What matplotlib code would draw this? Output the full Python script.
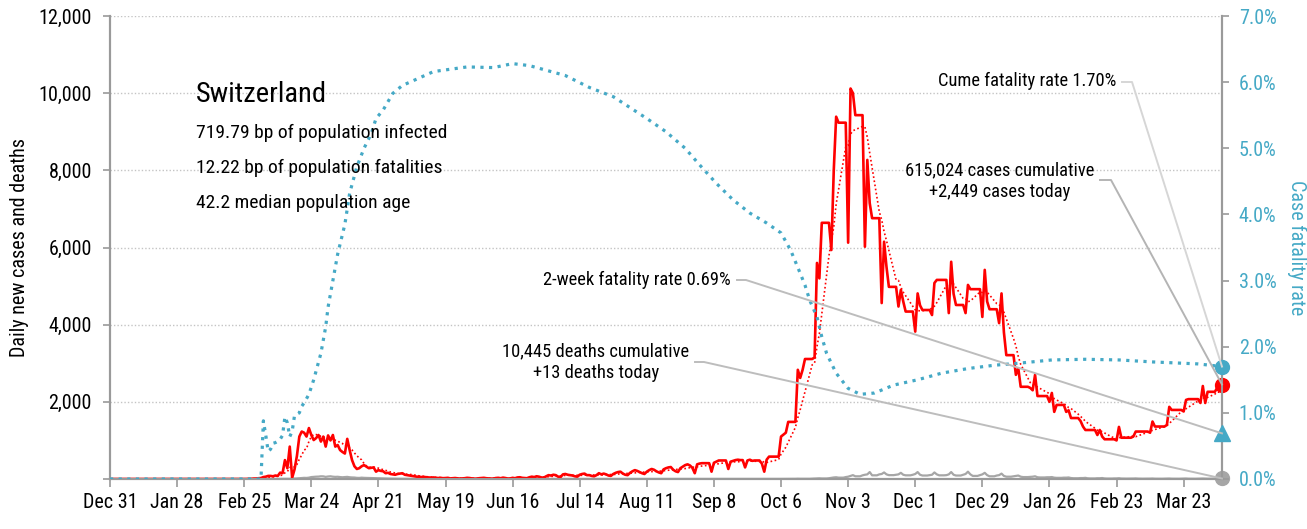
import numpy as np
import pandas as pd
import matplotlib
matplotlib.use("Agg")
import matplotlib.pyplot as plt
import matplotlib.dates as mdates
from matplotlib.lines import Line2D

plt.rcParams['font.family'] = ['Roboto Condensed', 'Liberation Sans Narrow', 'Roboto', 'DejaVu Sans']

# daily new cases, one row per week starting Tuesday Dec 31 2019
cases = (
    [0] * 56
    + [1, 0, 8, 5, 11, 12, 20]
    + [25, 50, 60, 80, 80, 70, 90]
    + [80, 165, 150, 490, 280, 840, 30]
    + [250, 600, 1100, 1230, 1200, 1100, 1320]
    + [1140, 1010, 1060, 1140, 970, 1100, 840]
    + [1130, 1000, 1140, 840, 880, 750, 700]
    + [660, 1040, 750, 490, 330, 260, 280]
    + [330, 360, 320, 280, 290, 300, 190]
    + [230, 210, 200, 150, 160, 130, 120]
    + [110, 130, 140, 150, 110, 100, 90]
    + [80, 70, 60, 60, 50, 55, 45]
    + [40, 35, 40, 30, 25, 30, 20]
    + [25, 30, 15, 20, 25, 18, 10]
    + [15, 20, 30, 25, 15, 10, 8]
    + [20, 25, 30, 20, 15, 10, 12]
    + [25, 30, 20, 35, 25, 12, 15]
    + [30, 20, 40, 45, 30, 25, 20]
    + [45, 60, 50, 70, 60, 40, 35]
    + [70, 100, 90, 110, 100, 60, 50]
    + [120, 130, 110, 100, 90, 70, 60]
    + [110, 130, 140, 100, 100, 80, 70]
    + [100, 150, 120, 140, 120, 90, 80]
    + [130, 160, 180, 190, 140, 110, 100]
    + [160, 200, 230, 210, 180, 150, 130]
    + [190, 230, 260, 240, 200, 170, 150]
    + [250, 280, 300, 310, 240, 200, 180]
    + [280, 320, 360, 380, 350, 290, 150]
    + [380, 400, 410, 410, 410, 410, 190]
    + [420, 450, 480, 480, 480, 480, 260]
    + [450, 470, 490, 500, 490, 490, 300]
    + [480, 500, 470, 480, 480, 480, 400]
    + [190, 500, 580, 580, 580, 580, 580]
    + [1100, 1150, 1200, 1480, 1480, 1480, 1480]
    + [2830, 2620, 2830, 3110, 3110, 3110, 3110]
    + [3150, 5600, 5200, 6640, 6640, 6640, 6640]
    + [5935, 8000, 9390, 9235, 9235, 9235, 9235]
    + [6125, 10120, 10000, 9430, 9430, 9430, 9430]
    + [6020, 8270, 7150, 6760, 6760, 6760, 6760]
    + [4560, 6150, 5500, 4980, 4980, 4980, 4980]
    + [4470, 4900, 4600, 4340, 4340, 4340, 4340]
    + [3820, 4810, 4500, 4380, 4380, 4380, 4380]
    + [4250, 5080, 5160, 5160, 5160, 5160, 5160]
    + [4300, 5630, 4800, 4510, 4510, 4510, 4510]
    + [4300, 5030, 4920, 4920, 4920, 4920, 4920]
    + [4200, 5420, 4600, 4400, 4400, 4400, 4400]
    + [4040, 4810, 3800, 3210, 3210, 3210, 3210]
    + [2700, 2870, 2390, 2390, 2390, 2390, 2360]
    + [2300, 2700, 2150, 2150, 2150, 2150, 2150]
    + [2000, 2230, 1740, 1920, 1920, 1920, 1920]
    + [1740, 1780, 1580, 1580, 1580, 1580, 1500]
    + [1360, 1270, 1270, 1270, 1270, 1270, 1140]
    + [1270, 1100, 1030, 1030, 1030, 1030, 1030]
    + [1000, 1350, 1070, 1070, 1070, 1070, 1070]
    + [1100, 1230, 1230, 1230, 1230, 1230, 1230]
    + [1200, 1490, 1360, 1360, 1360, 1360, 1360]
    + [1400, 1870, 1790, 1790, 1790, 1790, 1790]
    + [1750, 2050, 2070, 2070, 2070, 2070, 2070]
    + [1970, 2410, 1970, 2260, 2260, 2260, 2260]
    + [2360, 2360, 2449]
)

# daily new deaths, same weekly layout
deaths = (
    [0] * 63
    + [0, 0, 1, 0, 1, 1, 2]
    + [3, 4, 4, 7, 6, 5, 8]
    + [12, 15, 20, 25, 30, 28, 35]
    + [50, 55, 60, 62, 70, 68, 55]
    + [65, 70, 60, 55, 58, 50, 45]
    + [50, 55, 45, 40, 38, 30, 28]
    + [35, 30, 28, 25, 22, 20, 18]
    + [20, 18, 15, 14, 12, 10, 9]
    + [10, 8, 7, 6, 6, 5, 4]
    + [4, 3, 3, 2, 2, 2, 1]
    + [2, 1, 1, 0, 1, 0, 1] * 19
    + [2, 3, 2, 1, 1, 1, 2]
    + [3, 2, 3, 2, 2, 2, 3]
    + [3, 4, 5, 4, 4, 4, 5]
    + [8, 6, 7, 6, 6, 6, 10]
    + [12, 15, 18, 14, 14, 14, 20]
    + [30, 40, 45, 35, 35, 35, 50]
    + [60, 80, 100, 70, 70, 70, 95]
    + [110, 120, 180, 95, 95, 95, 120]
    + [130, 170, 120, 100, 100, 100, 110]
    + [120, 160, 110, 95, 95, 95, 110]
    + [130, 180, 110, 90, 90, 90, 100]
    + [110, 170, 120, 95, 95, 95, 100]
    + [120, 180, 110, 90, 90, 90, 110]
    + [130, 190, 120, 80, 80, 80, 100]
    + [120, 160, 100, 70, 70, 70, 90]
    + [100, 140, 80, 60, 60, 60, 70]
    + [80, 90, 60, 50, 50, 50, 55]
    + [60, 70, 45, 40, 40, 40, 45]
    + [45, 50, 35, 30, 30, 30, 35]
    + [35, 40, 25, 20, 20, 20, 25]
    + [25, 30, 18, 15, 15, 15, 20]
    + [20, 25, 15, 12, 12, 12, 15]
    + [15, 20, 12, 10, 10, 10, 12]
    + [12, 15, 10, 8, 8, 8, 10]
    + [10, 12, 8, 7, 7, 7, 9]
    + [9, 12, 8, 7, 7, 7, 9]
    + [10, 12, 8, 7, 7, 7, 9]
    + [10, 12, 9, 8, 8, 8, 10]
    + [11, 12, 13]
)

# cumulative case fatality rate (%), sampled by day since Dec 31 2019
cfr_day = [0, 63, 64, 65, 66, 67, 68, 69, 70, 71, 72, 73, 74, 75, 76, 77, 78, 79,
           80, 81, 83, 85, 88, 90, 91, 93, 95, 98, 100, 103, 106, 109, 111, 114,
           118, 122, 127, 135, 149, 160, 168, 175, 180, 190, 200, 210, 224, 232,
           240, 246, 253, 260, 267, 274, 280, 284, 288, 290, 292, 295, 297, 299,
           303, 308, 313, 319, 327, 337, 347, 358, 369, 379, 393, 407, 421, 435,
           454, 464]
cfr_pct = [0.0, 0.0, 0.88, 0.66, 0.42, 0.45, 0.54, 0.55, 0.57, 0.60, 0.66, 0.94,
           0.85, 0.64, 0.72, 0.96, 0.98, 1.0, 1.1, 1.15, 1.28, 1.5, 1.9, 2.3,
           2.6, 3.0, 3.4, 3.85, 4.32, 4.72, 5.0, 5.22, 5.45, 5.58, 5.83, 5.95,
           6.03, 6.16, 6.23, 6.22, 6.28, 6.25, 6.2, 6.1, 5.92, 5.78, 5.45, 5.25,
           5.0, 4.75, 4.47, 4.22, 4.02, 3.87, 3.72, 3.46, 3.11, 2.93, 2.7, 2.45,
           2.15, 1.9, 1.6, 1.37, 1.28, 1.3, 1.42, 1.5, 1.6, 1.67, 1.72, 1.75,
           1.8, 1.81, 1.8, 1.77, 1.74, 1.70]

two_week_cfr = 0.69
cum_cases = 615024
cum_deaths = 10445

country = "Switzerland"
stats = ["719.79 bp of population infected",
         "12.22 bp of population fatalities",
         "42.2 median population age"]

RED = "#ff0000"
TEAL = "#45a9c6"
GRAY = "#a6a6a6"
AXC = "#9a9a9a"

start = pd.Timestamp("2019-12-31")
dates = pd.date_range(start, periods=len(cases))
death_dates = pd.date_range(start, periods=len(deaths))
cfr_dates = start + pd.to_timedelta(cfr_day, unit="D")
avg7 = pd.Series(cases, index=dates).rolling(7, min_periods=1).mean()

W, H = 1307, 529
fig = plt.figure(figsize=(W / 100, H / 100), dpi=100)
L, R, T, B = 110, 1222, 16, 479
ax = fig.add_axes([L / W, 1 - B / H, (R - L) / W, (B - T) / H])
ax2 = ax.twinx()

ax.set_xlim(dates[0], dates[-1])
ax.set_ylim(0, 12000)
ax2.set_ylim(0, 7)

# gridlines
for v in range(2000, 12001, 2000):
    ax.axhline(v, color="#c4c4c4", lw=1, ls=(0, (1, 1.5)), zorder=0)

ax.plot(death_dates, deaths, color=GRAY, lw=1.6, zorder=2)
ax.plot(dates, avg7, color=RED, lw=1.2, ls=(0, (1, 1.5)), zorder=3)
ax.plot(dates, cases, color=RED, lw=1.9, zorder=4)
ax2.plot(cfr_dates, cfr_pct, color=TEAL, lw=2.3, ls=(0, (1, 1.7)), zorder=3)

# end-of-series markers
ax.plot(dates[-1], cases[-1], "o", color=RED, ms=10, clip_on=False, zorder=6)
ax.plot(death_dates[-1], deaths[-1], "o", color=GRAY, ms=10, clip_on=False, zorder=6)
ax2.plot(cfr_dates[-1], cfr_pct[-1], "o", color=TEAL, ms=10, clip_on=False, zorder=6)
ax2.plot(dates[-1], two_week_cfr, "^", color=TEAL, ms=11, clip_on=False, zorder=6)

# axes styling
for a in (ax, ax2):
    a.spines["top"].set_visible(False)
    for s in ("left", "right", "bottom"):
        a.spines[s].set_color(AXC)
        a.spines[s].set_linewidth(1.5)

ticks = pd.date_range(start, "2021-03-23", freq="28D")
ax.set_xticks(ticks)
ax.set_xticklabels([f"{d:%b} {d.day}" for d in ticks], fontsize=14.5)
ax.set_yticks(range(0, 12001, 2000))
ax.set_yticklabels([""] + [f"{v:,}" for v in range(2000, 12001, 2000)], fontsize=14.5)
ax.tick_params(axis="x", length=6, width=1.2, color=AXC, pad=4)
ax.tick_params(axis="y", length=5, width=1.2, color=AXC, pad=8)
ax2.set_yticks(np.arange(0, 7.01, 1))
ax2.set_yticklabels([f"{v:.1f}%" for v in np.arange(0, 7.01, 1)], fontsize=14.5, color=TEAL)
ax2.tick_params(axis="y", length=5, width=1.2, color=AXC, pad=7)

ax.set_ylabel("Daily new cases and deaths", fontsize=14.5, labelpad=7)
ax2.set_ylabel("Case fatality rate", fontsize=14.5, color=TEAL, rotation=-90, labelpad=22)

def fx(x):
    return x / W

def fy(y):
    return 1 - y / H

fig.text(fx(196), fy(95), country, fontsize=20.5, va="center", ha="left")
for i, s in enumerate(stats):
    fig.text(fx(196), fy(133 + 35 * i), s, fontsize=14, va="center", ha="left")

fig.text(fx(1116), fy(81), "Cume fatality rate 1.70%", fontsize=13.3, ha="right", va="center")
fig.text(fx(1000), fy(181), f"{cum_cases:,} cases cumulative\n+{cases[-1]:,} cases today",
         fontsize=13.3, ha="center", va="center", linespacing=1.25)
fig.text(fx(731), fy(280), f"2-week fatality rate {two_week_cfr:.2f}%", fontsize=13.3,
         ha="right", va="center")
fig.text(fx(596), fy(362), f"{cum_deaths:,} deaths cumulative\n+{deaths[-1]} deaths today",
         fontsize=13.3, ha="center", va="center", linespacing=1.25)

# leader lines from the labels to the latest values
to_fig = fig.transFigure.inverted()

def leader(axis, xd, yd, x0, x1, y, color):
    ex, ey = to_fig.transform(axis.transData.transform((mdates.date2num(xd), yd)))
    fig.add_artist(Line2D([fx(x0), fx(x1), ex], [fy(y), fy(y), ey],
                          color=color, lw=1.4, zorder=5))

leader(ax2, cfr_dates[-1], cfr_pct[-1], 1122, 1132, 82, "#d6d6d6")
leader(ax, dates[-1], cases[-1], 1100, 1111, 180, "#b4b4b4")
leader(ax2, dates[-1], two_week_cfr, 737, 746, 280, "#bdbdbd")
leader(ax, death_dates[-1], deaths[-1], 695, 704, 362, "#bdbdbd")

fig.savefig("out.png", dpi=100)
